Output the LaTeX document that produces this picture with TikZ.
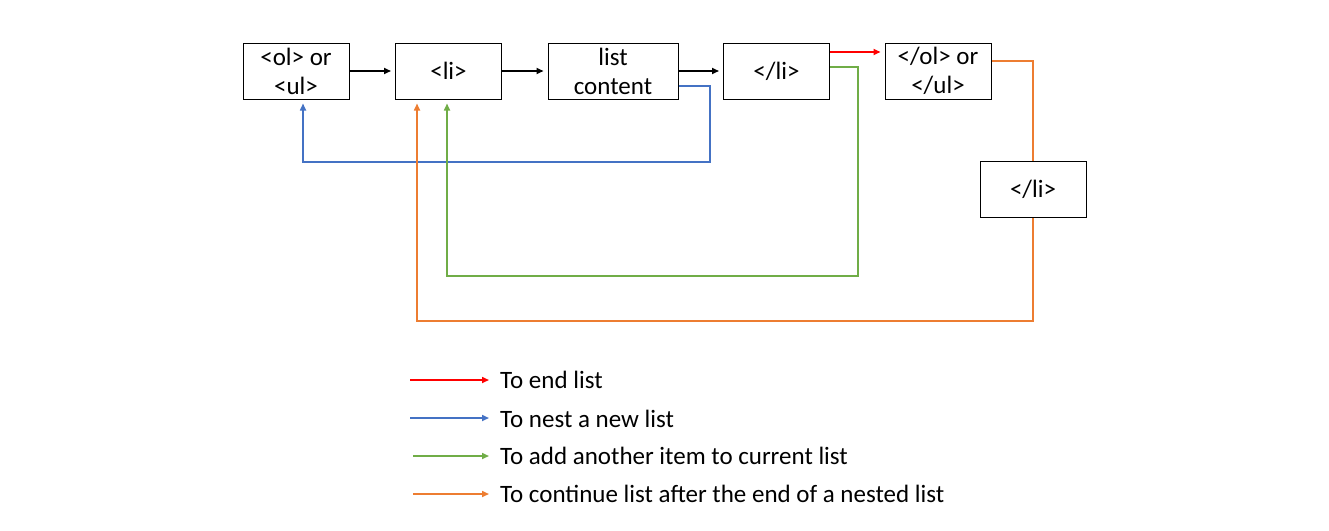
\documentclass[tikz,border=0pt]{standalone}
\usepackage{fontspec}
\setmainfont{Carlito}
\usepackage{xcolor}
\usetikzlibrary{arrows.meta}

\definecolor{endred}{HTML}{FF0000}
\definecolor{nestblue}{HTML}{4472C4}
\definecolor{itemgreen}{HTML}{70AD47}
\definecolor{contorange}{HTML}{ED7D31}

\tikzset{
  box/.style={draw, line width=1pt, minimum width=106pt, minimum height=56pt,
    align=center, inner sep=0pt, font=\fontsize{25}{29}\selectfont},
  flow/.style={line width=1.6pt, -{Triangle[length=7pt,width=6pt]}, shorten >=4pt},
  legtext/.style={anchor=west, inner sep=0pt, font=\fontsize{25}{29}\selectfont}
}

\begin{document}
\begin{tikzpicture}[x=1pt, y=-1pt]
                \useasboundingbox (0,0) rectangle (1329,530);

                % boxes
                \node[box] (olul) at (296,71) {<ol> or\\<ul>};
                \node[box] (li) at (448.5,71) {<li>};
                \node[box, minimum width=130pt] (content) at (613,71) {list\\content};
                \node[box] (endli) at (776.5,71) {</li>};
                \node[box] (endlist) at (938,71) {</ol> or\\</ul>};
                \node[box] (endli2) at (1033,189.5) {</li>};

                % main flow
                \draw[flow, black] (olul) -- (li);
                \draw[flow, black] (li) -- (content);
                \draw[flow, black] (content) -- (endli);

                \draw[flow, endred] ([yshift=19pt]endli.east) -- ([yshift=19pt]endlist.west);
                \draw[flow, nestblue] ([yshift=-15pt]content.east) -| (710,162) -| ([xshift=7pt]olul.south);
                \draw[flow, itemgreen] ([yshift=4pt]endli.east) -| (858,276) -| ([xshift=-1.5pt]li.south);
                \draw[line width=1.6pt, contorange] ([yshift=10pt]endlist.east) -| (endli2.north);
                \draw[flow, contorange] (endli2.south) |- (417,321) -- ([xshift=-31.5pt]li.south);

                % legend
                \node[legtext] (legred) at (500,380) {To end list};
                \node[legtext] (legblue) at (500,419) {To nest a new list};
                \node[legtext] (leggreen) at (500,456) {To add another item to current list};
                \node[legtext] (legorange) at (500,494) {To continue list after the end of a nested list};

                \coordinate (kred) at (410,380);
                \coordinate (kblue) at (410,418);
                \coordinate (kgreen) at (413,456);
                \coordinate (korange) at (413,494);

                \draw[flow, endred, shorten >=11pt] (kred) -- (kred -| legred.west);
                \draw[flow, nestblue, shorten >=11pt] (kblue) -- (kblue -| legblue.west);
                \draw[flow, itemgreen, shorten >=11pt] (kgreen) -- (kgreen -| leggreen.west);
                \draw[flow, contorange, shorten >=11pt] (korange) -- (korange -| legorange.west);
            \end{tikzpicture}
\end{document}
